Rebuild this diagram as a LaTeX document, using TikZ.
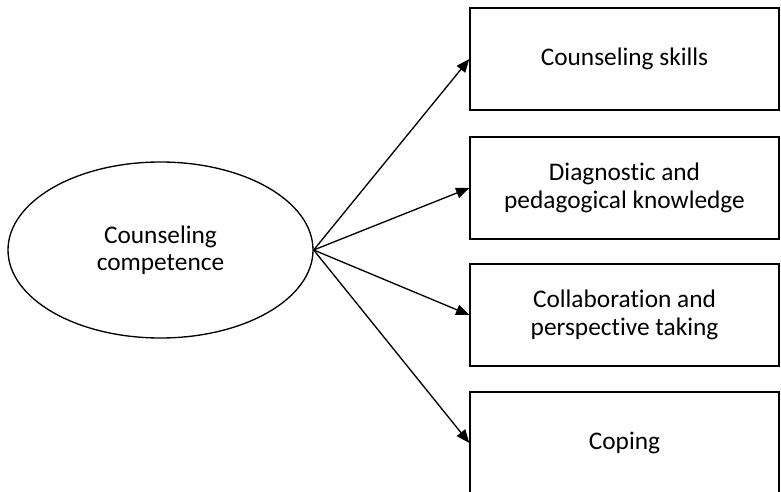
\documentclass[tikz,border=0pt]{standalone}
\usepackage{fontspec}
\setmainfont{Carlito}[Ligatures=NoCommon]
\usetikzlibrary{arrows.meta,shapes.geometric}
\begin{document}
\begin{tikzpicture}[x=0.75pt,y=-0.75pt,
  factor/.style={draw,line width=1pt,rectangle,minimum width=231.75pt,minimum height=76.5pt,
    inner sep=0pt,align=center,font=\fontsize{19}{20.5}\selectfont},
  latent/.style={draw,line width=1pt,ellipse,minimum width=228.75pt,minimum height=132pt,
    inner sep=0pt,align=center,font=\fontsize{19}{20}\selectfont},
  path/.style={line width=1pt,-{Triangle[length=10pt,width=8pt]}}]
  \useasboundingbox (0,0) rectangle (781,492);
  \node[latent] (comp) at (160.5,250) {Counseling\\competence};
  \node[factor] (skills) at (624.5,59) {Counseling skills};
  \node[factor] (diag) at (624.5,188) {Diagnostic and\\pedagogical knowledge};
  \node[factor] (collab) at (624.5,315) {Collaboration and\\perspective taking};
  \node[factor] (coping) at (624.5,443) {Coping};
  \draw[path] (comp.east) -- (skills.west);
  \draw[path] (comp.east) -- (diag.west);
  \draw[path] (comp.east) -- (collab.west);
  \draw[path] (comp.east) -- (coping.west);
\end{tikzpicture}
\end{document}
